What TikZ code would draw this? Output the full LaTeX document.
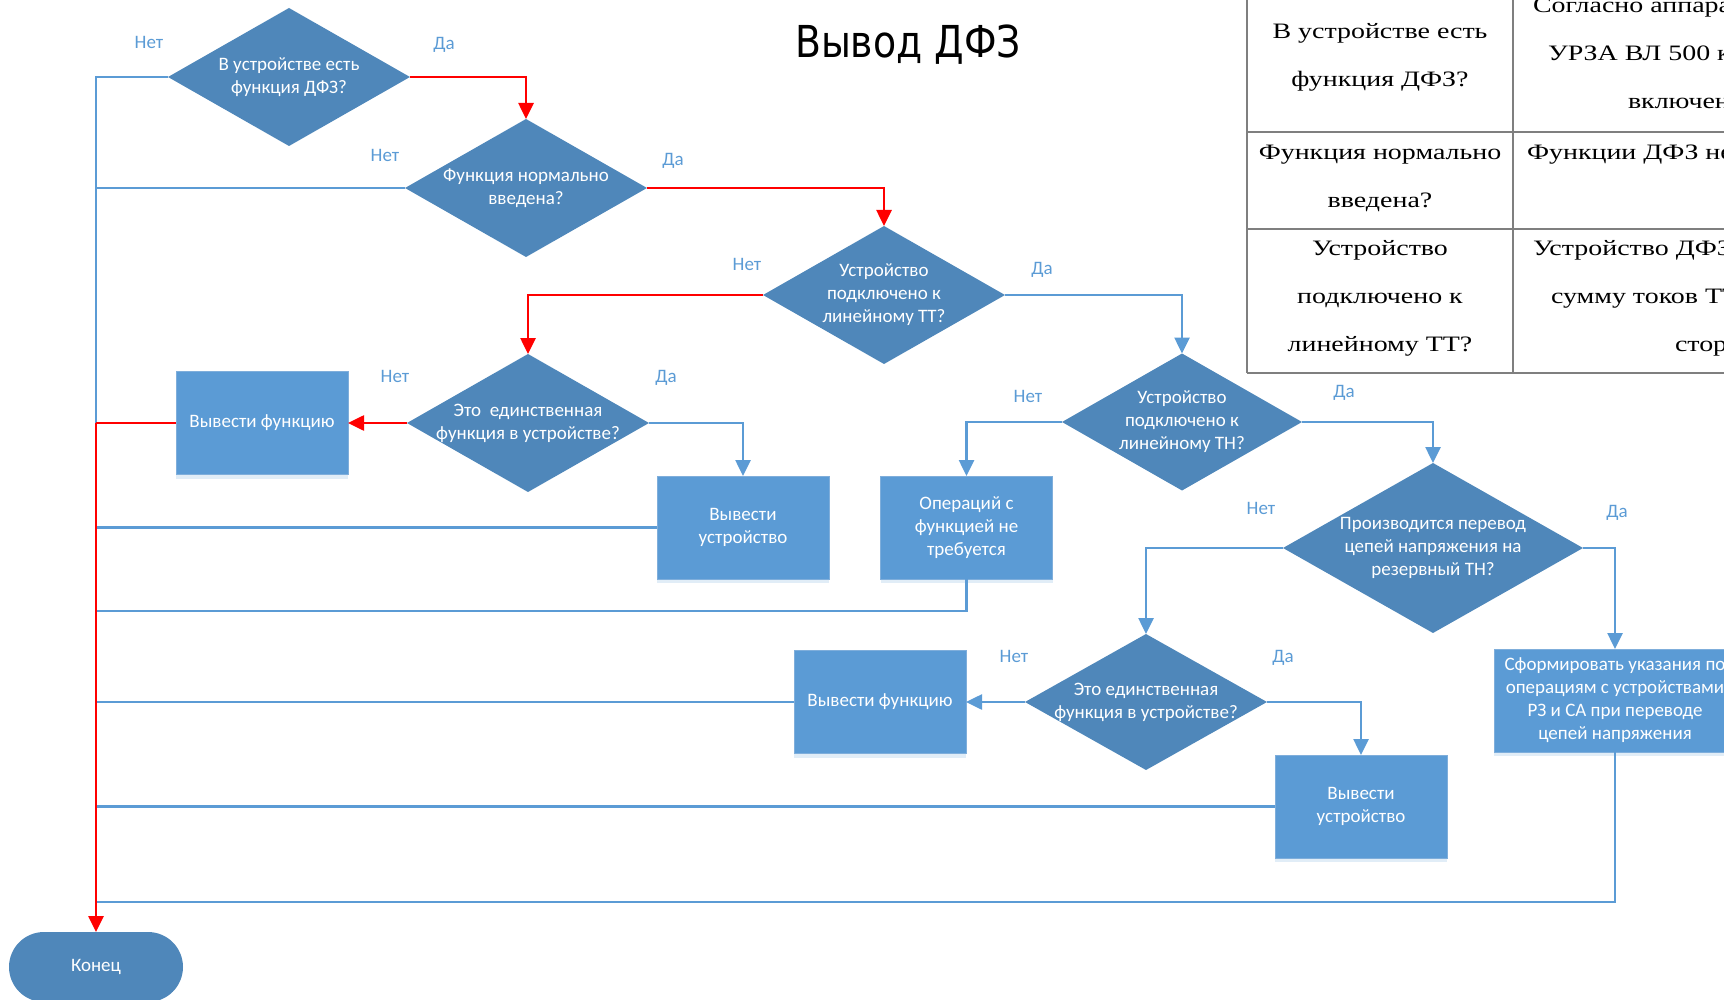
\documentclass[tikz,border=0pt]{standalone}
\usepackage{fontspec}
\usetikzlibrary{shapes.geometric,arrows.meta,shadows}
\newfontfamily\flowfont{Carlito}
\newfontfamily\titlefont[FakeStretch=0.86]{DejaVu Sans}
\newfontfamily\tabfont[FakeStretch=1.27]{Liberation Serif}
\definecolor{boxblue}{HTML}{5B9BD5}
\definecolor{boxedge}{HTML}{7FAEDB}
\definecolor{diablue}{HTML}{4F87BA}
\definecolor{lineblue}{HTML}{5B9BD5}
\definecolor{gridgray}{HTML}{7F7F7F}
\definecolor{flowred}{HTML}{FF0000}

\begin{document}
\begin{tikzpicture}[x=1pt,y=-1pt,
  every node/.style={inner sep=0pt,outer sep=0pt},
  dec/.style={diamond,fill=diablue,minimum width=242pt,minimum height=138pt},
  bigdec/.style={dec,minimum width=300pt,minimum height=170pt},
  proc/.style={rectangle,fill=boxblue,draw=boxedge,line width=1pt,
    minimum width=172pt,minimum height=103pt,text=white,align=center,
    font=\flowfont\fontsize{19}{23}\selectfont,
    drop shadow={shadow xshift=0pt,shadow yshift=-4pt,opacity=.18,fill=boxblue}},
  term/.style={rectangle,rounded corners=35pt,fill=diablue,
    minimum width=174pt,minimum height=70pt,text=white,
    font=\flowfont\fontsize{19}{23}\selectfont},
  dtext/.style={text=white,align=center,font=\flowfont\fontsize{19}{23}\selectfont},
  lab/.style={text=lineblue,font=\flowfont\fontsize{19}{23}\selectfont},
  bline/.style={draw=lineblue,line width=2.6pt},
  rline/.style={draw=flowred,line width=2.6pt},
  barrow/.style={bline,-{Triangle[length=16pt,width=15pt]}},
  rarrow/.style={rline,-{Triangle[length=16pt,width=15pt]}},
  grid/.style={draw=gridgray,line width=1.6pt},
  tab/.style={anchor=base,font=\tabfont\fontsize{22}{26}\selectfont},
  tabw/.style={tab,anchor=base west}
]
\useasboundingbox (0,0) rectangle (1724,1000);
\clip (0,0) rectangle (1724,1000);

% title
\node[anchor=base] (title) at (908,58) {\titlefont\fontsize{44}{50}\selectfont Вывод ДФЗ};

% explanation table
\draw[grid] (1247,-5) -- (1247,373);
\draw[grid] (1513,-5) -- (1513,373);
\draw[grid] (1247,132) -- (1730,132);
\draw[grid] (1247,229) -- (1730,229);
\draw[grid] (1247,373) -- (1730,373);
\node[tab] (c11) at (1380,39) {В устройстве есть};
\node[tab] (c12) at (1380,87) {функция ДФЗ?};
\node[tab] (c21) at (1380,160) {Функция нормально};
\node[tab] (c22) at (1380,208) {введена?};
\node[tab] (c31) at (1380,256) {Устройство};
\node[tab] (c32) at (1380,304) {подключено к};
\node[tab] (c33) at (1380,351) {линейному ТТ?};
\node[tabw] (e11) at (1533,13) {Согласно аппаратуре};
\node[tabw] (e12) at (1548,61) {УРЗА ВЛ 500 кВ};
\node[tabw] (e13) at (1628,109) {включена};
\node[tabw] (e21) at (1527,160) {Функции ДФЗ нет};
\node[tabw] (e31) at (1533,256) {Устройство ДФЗ};
\node[tabw] (e32) at (1551,304) {сумму токов ТТ};
\node[tabw] (e33) at (1675,351) {сторон};

% decisions
\node[dec] (d1) at (289,77) {};
\node[dec] (d2) at (526,188) {};
\node[dec] (d3) at (884,295) {};
\node[dec] (d4) at (528,423) {};
\node[dec,minimum width=240pt,minimum height=137pt] (d5) at (1182,422) {};
\node[bigdec] (d6) at (1433,548) {};
\node[dec,minimum height=136pt] (d7) at (1146,702) {};
\node[dtext] (t1) at (d1) {В устройстве есть\\функция ДФЗ?};
\node[dtext] (t2) at (d2) {Функция нормально\\введена?};
\node[dtext] (t3) at (d3) {Устройство\\подключено к\\линейному ТТ?};
\node[dtext] (t4) at (d4) {Это\ \ единственная\\функция в устройстве?};
\node[dtext] (t5) at (d5) {Устройство\\подключено к\\линейному ТН?};
\node[dtext] (t6) at (d6) {Производится перевод\\цепей напряжения на\\резервный ТН?};
\node[dtext] (t7) at (d7) {Это единственная\\функция в устройстве?};

% actions
\node[proc] (b1) at (262,423) {Вывести функцию};
\node[proc] (b2) at (743,527.5) {Вывести\\устройство};
\node[proc] (b3) at (966.5,527.5) {Операций с\\функцией не\\требуется};
\node[proc] (b4) at (880,702) {Вывести функцию};
\node[proc] (b5) at (1361,806.5) {Вывести\\устройство};
\node[proc,minimum width=242pt] (b6) at (1615,700.5) {Сформировать указания по\\операциям с устройствами\\РЗ и СА при переводе\\цепей напряжения};
\node[term] (end) at (96,967) {Конец};

% junctions on the return bus
\coordinate (j1) at (96,77);
\coordinate (j2) at (96,188);
\coordinate (jr) at (96,423);
\coordinate (j6) at (96,611);
\coordinate (j9) at (96,902);

% return lines (blue)
\draw[bline] (d1.west) -- (j1) -- (jr);
\draw[bline] (d2.west) -- (j2);
\draw[bline] (b2.west) -- (b2.west -| jr);
\draw[bline] (b3.south) |- (j6);
\draw[bline] (b4.west) -- (b4.west -| jr);
\draw[bline] (b5.west) -- (b5.west -| jr);
\draw[bline] (b6.south) |- (j9);

% branch arrows (blue)
\draw[barrow] (d3.east) -| (d5.north);
\draw[barrow] (d4.east) -| (b2.north);
\draw[barrow] (d5.west) -| (b3.north);
\draw[barrow] (d5.east) -| (d6.north);
\draw[barrow] (d6.west) -| (d7.north);
\draw[barrow] (d6.east) -| (b6.north);
\draw[barrow] (d7.west) -- (b4.east);
\draw[barrow] (d7.east) -| (b5.north);

% highlighted path (red)
\draw[rarrow] (d1.east) -| (d2.north);
\draw[rarrow] (d2.east) -| (d3.north);
\draw[rarrow] (d3.west) -| (d4.north);
\draw[rarrow] (d4.west) -- (b1.east);
\draw[rline] (b1.west) -- (jr);
\draw[rarrow] (jr) -- (end.north);

% branch labels
\node[lab] (l1n) at (149,42) {Нет};
\node[lab] (l1y) at (444,45) {Да};
\node[lab] (l2n) at (385,155) {Нет};
\node[lab] (l2y) at (673,161) {Да};
\node[lab] (l3n) at (747,264) {Нет};
\node[lab] (l3y) at (1042,270) {Да};
\node[lab] (l4n) at (395,376) {Нет};
\node[lab] (l4y) at (666,378) {Да};
\node[lab] (l5n) at (1028,396) {Нет};
\node[lab] (l5y) at (1344,393) {Да};
\node[lab] (l6n) at (1261,508) {Нет};
\node[lab] (l6y) at (1617,513) {Да};
\node[lab] (l7n) at (1014,656) {Нет};
\node[lab] (l7y) at (1283,658) {Да};
\end{tikzpicture}
\end{document}
